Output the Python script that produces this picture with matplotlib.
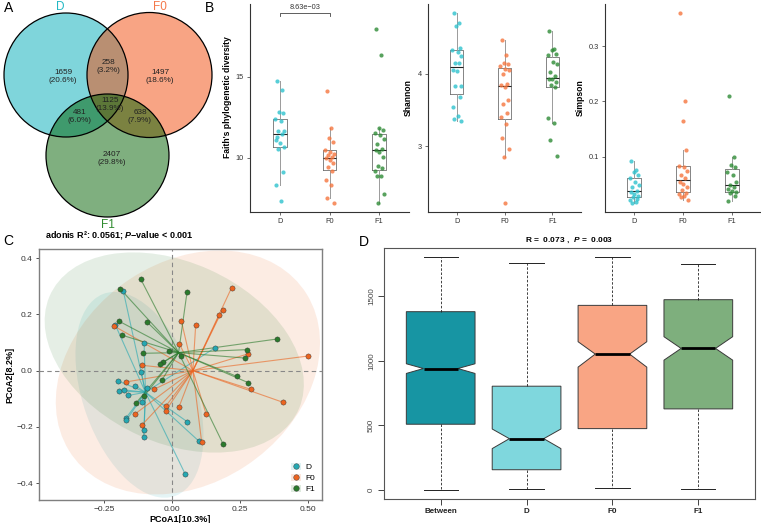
import matplotlib
matplotlib.use("Agg")
import matplotlib.pyplot as plt
import numpy as np
from matplotlib.patches import Circle, Ellipse, Patch
from matplotlib.lines import Line2D
from matplotlib.ticker import FuncFormatter

plt.rcParams['font.family'] = ['Liberation Sans', 'DejaVu Sans']
plt.rcParams['mathtext.fontset'] = 'custom'
plt.rcParams['mathtext.rm'] = 'Liberation Sans:bold'
plt.rcParams['mathtext.it'] = 'Liberation Sans:bold:italic'
plt.rcParams['mathtext.bf'] = 'Liberation Sans:bold'

W, H = 761, 523

# ---- data ----
groups = ['D', 'F0', 'F1']

# venn: D only, D&F0, F0 only, all, D&F1, F0&F1, F1 only
venn_counts = [1659, 258, 1497, 1125, 481, 638, 2407]

faith_D = [14.75, 14.19, 12.83, 12.79, 12.38, 12.29, 11.67, 11.65, 11.45, 11.10,
           10.89, 10.68, 10.52, 9.13, 8.31, 7.36, 11.3]
faith_F0 = [14.11, 11.82, 11.24, 10.99, 10.48, 10.37, 10.23, 10.17, 10.06, 9.96,
            9.86, 9.69, 9.44, 9.17, 8.62, 8.29, 7.52, 7.23]
faith_F1 = [17.95, 16.36, 11.86, 11.71, 11.55, 11.40, 11.14, 10.85, 10.54, 10.48,
            10.37, 10.06, 9.50, 9.34, 9.17, 8.88, 8.88, 7.79, 7.21]
shannon_D = [4.83, 4.70, 4.66, 4.35, 4.33, 4.30, 4.24, 4.15, 4.14, 4.05,
             4.03, 3.83, 3.83, 3.68, 3.54, 3.41, 3.38, 3.35]
shannon_F0 = [4.46, 4.26, 4.15, 4.13, 4.11, 4.06, 4.05, 3.99, 3.86, 3.84,
              3.81, 3.64, 3.58, 3.45, 3.40, 3.30, 3.11, 2.96, 2.85, 2.22]
shannon_F1 = [4.59, 4.34, 4.32, 4.27, 4.25, 4.16, 4.13, 4.02, 3.96, 3.93,
              3.92, 3.89, 3.84, 3.81, 3.39, 3.32, 3.09, 2.86]
simpson_D = [0.092, 0.076, 0.073, 0.067, 0.062, 0.055, 0.049, 0.045, 0.039, 0.036,
             0.033, 0.030, 0.028, 0.024, 0.022, 0.019, 0.017]
simpson_F0 = [0.359, 0.200, 0.164, 0.113, 0.084, 0.082, 0.074, 0.068, 0.062, 0.054,
              0.051, 0.045, 0.040, 0.035, 0.033, 0.030, 0.027, 0.023]
simpson_F1 = [0.210, 0.100, 0.086, 0.082, 0.073, 0.068, 0.054, 0.049, 0.045, 0.042,
              0.038, 0.036, 0.034, 0.030, 0.021]

pc_D_x = [-0.18, -0.209, -0.103, -0.113, -0.2, -0.195, -0.177, -0.136, -0.161, -0.091,
          -0.111, -0.171, -0.168, -0.103, -0.105, 0.055, 0.098, 0.049, 0.159]
pc_D_y = [0.285, 0.163, 0.10, -0.006, -0.036, -0.072, -0.068, -0.053, -0.088, -0.063,
          -0.11, -0.17, -0.176, -0.211, -0.236, -0.181, -0.25, -0.369, 0.082]
pc_F0_x = [-0.214, 0.219, 0.186, 0.174, 0.034, 0.087, 0.027, 0.28, 0.499, -0.109, 0.289,
           0.407, -0.17, -0.066, -0.138, -0.023, -0.023, 0.026, 0.125, 0.109, -0.111]
pc_F0_y = [0.159, 0.295, 0.217, 0.198, 0.178, 0.164, 0.095, 0.06, 0.052, 0.019, -0.066,
           -0.112, -0.04, -0.066, -0.155, -0.126, -0.142, -0.128, -0.153, -0.255, -0.193]
pc_F1_x = [-0.116, -0.19, 0.055, -0.197, -0.093, -0.183, 0.388, -0.106, -0.011, 0.031,
           0.275, 0.268, -0.032, -0.045, -0.037, 0.238, 0.279, -0.102, -0.132, 0.188]
pc_F1_y = [0.327, 0.29, 0.279, 0.177, 0.174, 0.126, 0.113, 0.062, 0.071, 0.053,
           0.075, 0.045, 0.03, 0.023, -0.033, -0.02, -0.042, -0.089, -0.114, -0.261]

anosim_names = ['Between', 'D', 'F0', 'F1']
anosim_whislo = [0, 5, 15, 5]
anosim_q1 = [508, 155, 474, 627]
anosim_med = [940, 396, 1052, 1096]
anosim_q3 = [1381, 803, 1430, 1474]
anosim_whishi = [1803, 1762, 1803, 1754]
anosim_cilo = [902, 319, 951, 1005]
anosim_cihi = [977, 471, 1148, 1187]

# ---- colours ----
venn_col = ['#00ADB9', '#F34B0B', '#006100']
venn_lab = ['#22B8C4', '#F4784A', '#2E8B2E']
pt_col = ['#2EC2CE', '#F5763E', '#2E8B36']
pc_col = ['#25A8B2', '#EC6420', '#2A7A2C']
box_col = ['#1795A3', '#7FD7DD', '#F9A584', '#7EAF7D']

fig = plt.figure(figsize=(W / 100, H / 100), dpi=100)


def px_axes(l, t, r, b):
    return fig.add_axes([l / W, 1 - b / H, (r - l) / W, (b - t) / H])


def minus(fmt):
    return FuncFormatter(lambda v, p: (fmt % v).replace('-', '\u2212'))


def trob(x, y, nu=5):
    # robust t covariance, like MASS::cov.trob used by stat_ellipse
    X = np.column_stack([x, y])
    n, p = X.shape
    loc = X.mean(axis=0)
    w = np.ones(n)
    for _ in range(100):
        d = X - loc
        S = (d * w[:, None]).T @ d / w.sum()
        Q = np.einsum('ij,jk,ik->i', d, np.linalg.inv(S), d)
        w_new = (nu + p) / (nu + Q)
        loc = (X * w_new[:, None]).sum(axis=0) / w_new.sum()
        if np.allclose(w_new, w, atol=1e-6):
            w = w_new
            break
        w = w_new
    d = X - loc
    cov = (d * w[:, None]).T @ d / n
    return loc, cov


# ---- A: venn ----
axA = px_axes(0, 0, 225, 235)
axA.set_xlim(0, 225)
axA.set_ylim(235, 0)
axA.axis('off')
centers = [(66, 75, 62), (149.5, 75, 62.5), (107.5, 155.5, 61.5)]
for (cx, cy, r), c in zip(centers, venn_col):
    axA.add_patch(Circle((cx, cy), r, facecolor=c, alpha=0.5, edgecolor='none'))
for cx, cy, r in centers:
    axA.add_patch(Circle((cx, cy), r, facecolor='none', edgecolor='black', lw=0.9))
total = sum(venn_counts)
venn_pos = [(63, 77), (108, 66), (160, 77), (110, 104), (80, 116), (140, 116), (112, 159)]
for n, (x, y) in zip(venn_counts, venn_pos):
    axA.text(x, y, '%d\n(%.1f%%)' % (n, 100.0 * n / total), ha='center', va='center',
             fontsize=5.9, color='#222222', linespacing=1.2)
axA.text(60, 7, 'D', color=venn_lab[0], fontsize=8.5, ha='center', va='center')
axA.text(160, 7, 'F0', color=venn_lab[1], fontsize=8.5, ha='center', va='center')
axA.text(108, 225, 'F1', color=venn_lab[2], fontsize=8.5, ha='center', va='center')
fig.text(9 / W, 1 - 8 / H, 'A', fontsize=10, ha='center', va='center')

# ---- B: alpha diversity ----
jit = [-0.06, 0.04, -0.01, 0.07, -0.09, 0.02, 0.09, -0.04, 0.05, -0.07, 0.0, 0.08,
       -0.03, 0.06, -0.08, 0.03, -0.05, 0.1, -0.02, 0.01, 0.07]
alpha_sets = [
    ([faith_D, faith_F0, faith_F1], "Faith's phylogenetic diversity", (250, 409), (6.65, 19.5), [10, 15], '%d', -0.115),
    ([shannon_D, shannon_F0, shannon_F1], 'Shannon', (428, 581), (2.09, 4.96), [3, 4], '%d', -0.1),
    ([simpson_D, simpson_F0, simpson_F1], 'Simpson', (605, 761), (0.0005, 0.376), [0.1, 0.2, 0.3], '%.1f', -0.13),
]
axB = []
for vals, lab, (l, r), ylim, yt, fmt, lx in alpha_sets:
    ax = px_axes(l, 4, r, 212)
    ax.boxplot(vals, positions=[1, 2, 3], widths=0.28, showfliers=False,
               boxprops=dict(color='#707070', lw=0.6),
               whiskerprops=dict(color='#9A9A9A', lw=0.7),
               capprops=dict(lw=0), medianprops=dict(color='#222222', lw=0.8))
    for i, v in enumerate(vals):
        xs = [i + 1 + j for j in jit[:len(v)]]
        ax.scatter(xs, v, s=9, color=pt_col[i], alpha=0.8, lw=0, zorder=3)
    ax.set_xlim(0.4, 3.6)
    ax.set_ylim(*ylim)
    ax.set_yticks(yt)
    ax.yaxis.set_major_formatter(minus(fmt))
    ax.set_xticks([1, 2, 3])
    ax.set_xticklabels(groups)
    for s in ['top', 'right']:
        ax.spines[s].set_visible(False)
    for s in ['left', 'bottom']:
        ax.spines[s].set_color('#333333')
        ax.spines[s].set_linewidth(0.8)
    ax.tick_params(labelsize=5.3, colors='#333333', length=2.5, width=0.5, pad=2)
    ax.set_ylabel(lab, fontsize=6.2, fontweight='bold')
    ax.yaxis.set_label_coords(lx, 0.55)
    axB.append(ax)
axB[0].plot([1, 1, 2, 2], [18.75, 18.95, 18.95, 18.75], color='#444444', lw=0.6)
axB[0].text(1.5, 19.05, '8.63e\u221203', fontsize=5.3, ha='center', va='bottom', color='#333333')
fig.text(210 / W, 1 - 8 / H, 'B', fontsize=10, ha='center', va='center')

# ---- C: PCoA ----
axC = px_axes(39, 249, 322, 500)
pcs = [(pc_D_x, pc_D_y), (pc_F0_x, pc_F0_y), (pc_F1_x, pc_F1_y)]
level = 0.97
for (x, y), c in zip(pcs, pc_col):
    loc, cov = trob(x, y)
    dfd = len(x) - 1
    qf = dfd / 2.0 * ((1 - level) ** (-2.0 / dfd) - 1)
    k = np.sqrt(2 * qf)
    w, v = np.linalg.eigh(cov)
    ang = np.degrees(np.arctan2(v[1, 1], v[0, 1]))
    axC.add_patch(Ellipse(loc, 2 * k * np.sqrt(w[1]), 2 * k * np.sqrt(w[0]),
                          angle=ang, facecolor=c, alpha=0.12, edgecolor='none', zorder=1))
axC.axhline(0, color='#888888', lw=0.8, ls=(0, (4, 3)), zorder=2)
axC.axvline(0, color='#888888', lw=0.8, ls=(0, (4, 3)), zorder=2)
for (x, y), c in zip(pcs, pc_col):
    mx, my = np.mean(x), np.mean(y)
    for xi, yi in zip(x, y):
        axC.plot([mx, xi], [my, yi], color=c, lw=0.8, alpha=0.6, zorder=3)
for (x, y), c in zip(pcs, pc_col):
    axC.scatter(x, y, s=14, color=c, edgecolor='#333333', lw=0.3, zorder=4)
axC.set_xlim(-0.49, 0.552)
axC.set_ylim(-0.46, 0.433)
axC.set_xticks([-0.25, 0, 0.25, 0.5])
axC.set_yticks([-0.4, -0.2, 0, 0.2, 0.4])
axC.xaxis.set_major_formatter(minus('%.2f'))
axC.yaxis.set_major_formatter(minus('%.1f'))
for s in axC.spines.values():
    s.set_color('#7F7F7F')
    s.set_linewidth(1.0)
axC.tick_params(labelsize=6, colors='#333333', length=2.5, width=0.6, pad=2)
axC.set_xlabel('PCoA1[10.3%]', fontsize=6.5, fontweight='bold', labelpad=1)
axC.set_ylabel('PCoA2[8.2%]', fontsize=6.5, fontweight='bold', labelpad=1)
axC.text(0.02, 1.03, 'adonis R\u00b2: 0.0561; $P$\u2212value < 0.001', transform=axC.transAxes,
         fontsize=6.5, fontweight='bold', ha='left', va='bottom')
handles = [(Patch(facecolor=c, alpha=0.15), Line2D([], [], marker='o', ls='none', markersize=4,
            markerfacecolor=c, markeredgecolor='#333333', markeredgewidth=0.3)) for c in pc_col]
axC.legend(handles, groups, loc='lower right', fontsize=6, frameon=False, handlelength=1.2,
           handleheight=1.0, labelspacing=0.3, borderaxespad=0.4, handletextpad=0.5)
fig.text(8 / W, 1 - 241 / H, 'C', fontsize=10, ha='center', va='center')

# ---- D: anosim ----
axD = px_axes(384, 248, 755, 499)
stats = []
for i, nm in enumerate(anosim_names):
    stats.append(dict(label=nm, whislo=anosim_whislo[i], q1=anosim_q1[i], med=anosim_med[i],
                      q3=anosim_q3[i], whishi=anosim_whishi[i], cilo=anosim_cilo[i],
                      cihi=anosim_cihi[i], fliers=[]))
bp = axD.bxp(stats, positions=[1, 2, 3, 4], widths=0.8, capwidths=0.4, shownotches=True,
             patch_artist=True, showfliers=False,
             boxprops=dict(edgecolor='#3A3A3A', lw=0.7),
             whiskerprops=dict(color='#222222', lw=0.6, ls=(0, (3, 2))),
             capprops=dict(color='#222222', lw=0.7),
             medianprops=dict(color='black', lw=2.0))
for p, c in zip(bp['boxes'], box_col):
    p.set_facecolor(c)
axD.set_xlim(0.34, 4.66)
axD.set_ylim(-72, 1875)
axD.set_yticks([0, 500, 1000, 1500])
axD.set_yticklabels(['0', '500', '1000', '1500'], rotation=90, va='center')
axD.set_xticklabels(anosim_names, fontweight='bold')
for s in axD.spines.values():
    s.set_color('#555555')
    s.set_linewidth(0.8)
axD.tick_params(labelsize=5.8, colors='#222222', length=4.5, width=0.6, pad=2)
axD.tick_params(axis='y', labelcolor='#444444')
axD.text(0.5, 1.01, 'R =  0.073 ,  $P$ =  0.003', transform=axD.transAxes, fontsize=6,
         fontweight='bold', ha='center', va='bottom')
fig.text(364 / W, 1 - 242 / H, 'D', fontsize=10, ha='center', va='center')

fig.savefig('out.png', dpi=100)
